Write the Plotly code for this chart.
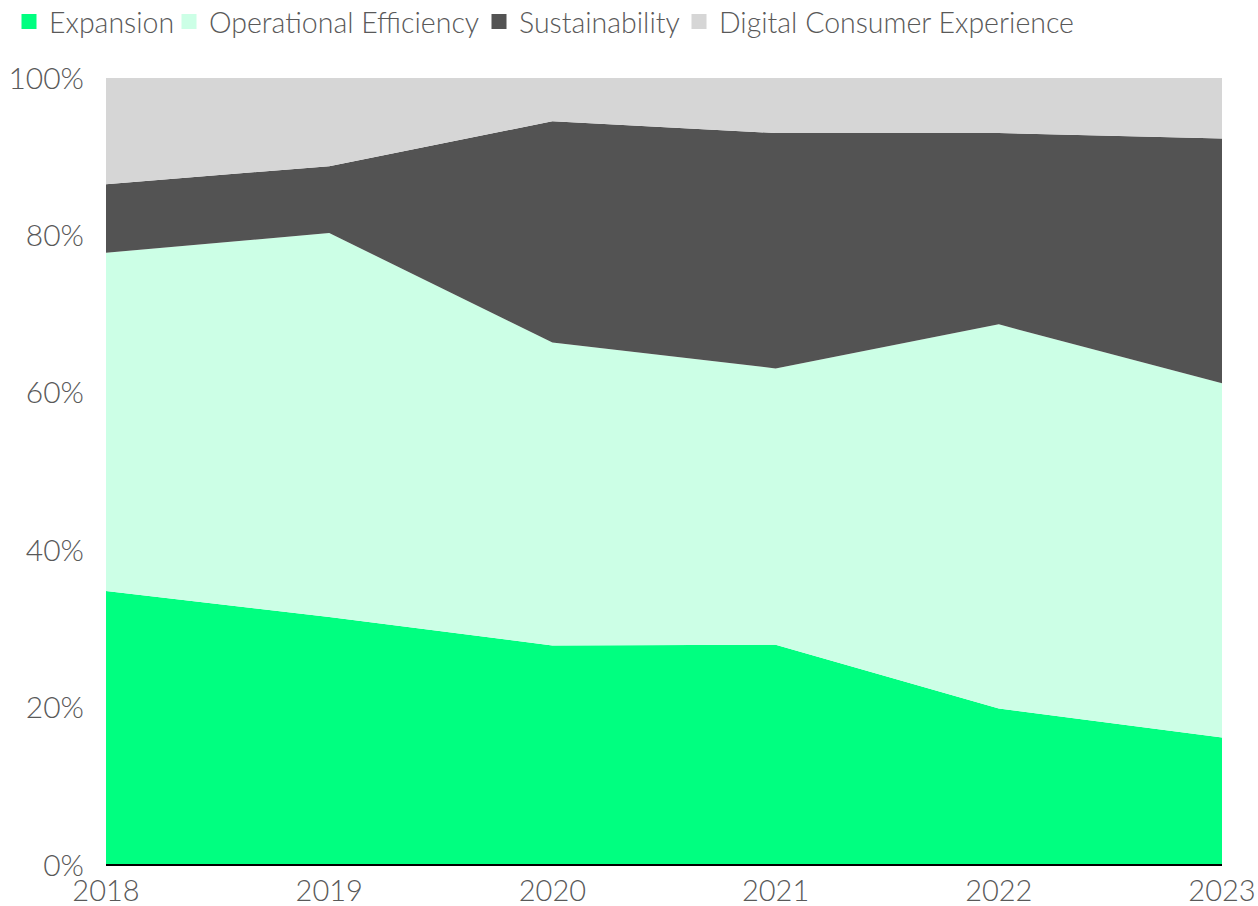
import plotly.graph_objects as go

years = [2018, 2019, 2020, 2021, 2022, 2023]
expansion = [34.8, 31.5, 27.9, 28.0, 19.9, 16.2]
operational = [43.0, 48.8, 38.5, 35.1, 48.8, 45.0]
sustainability = [8.7, 8.5, 28.1, 29.9, 24.3, 31.1]
digital = [13.5, 11.2, 5.5, 7.0, 7.0, 7.7]
tick_labels = ["0%", "20%", "40%", "60%", "80%", "100%"]

series = [
    ("Expansion", expansion, "#00FF80"),
    ("Operational Efficiency", operational, "#CCFFE6"),
    ("Sustainability", sustainability, "#535353"),
    ("Digital Consumer Experience", digital, "#D6D6D6"),
]

W, H = 1258, 906
FONT = "Lato"
legend_ids = ["legend", "legend2", "legend3", "legend4"]
legend_x_px = [9, 169, 479, 679]

fig = go.Figure()
for name, vals, color in series:
    fig.add_trace(go.Scatter(
        x=years, y=vals, name=name, mode="none", stackgroup="one",
        groupnorm="percent", fillcolor=color, line=dict(width=0),
        showlegend=False,
    ))
for (name, vals, color), lid in zip(series, legend_ids):
    fig.add_trace(go.Scatter(
        x=[None], y=[None], name=name, mode="markers",
        marker=dict(symbol="square", size=15, color=color),
        showlegend=True, legend=lid,
    ))

leg_common = dict(orientation="h", xref="container", xanchor="left",
                  y=1 - 22 / H, yref="container", yanchor="middle",
                  font=dict(size=28.5, family=FONT, color="#595959", weight=300),
                  itemwidth=30, bgcolor="rgba(0,0,0,0)", borderwidth=0)
legends = {lid: dict(leg_common, x=px / W) for lid, px in zip(legend_ids, legend_x_px)}

fig.update_layout(
    width=W, height=H,
    paper_bgcolor="white", plot_bgcolor="white",
    margin=dict(l=106, r=36, t=78, b=41),
    font=dict(family=FONT, color="#595959", size=30, weight=300),
    showlegend=True,
    xaxis=dict(range=[2018, 2023], tickvals=years, ticktext=[str(y) for y in years],
               showgrid=False, zeroline=False, showline=False, ticks="",
               tickfont=dict(size=29), ticklabelstandoff=6, automargin=False),
    yaxis=dict(range=[0, 100], tickvals=[0, 20, 40, 60, 80, 100],
               ticktext=tick_labels,
               showgrid=False, zeroline=False, showline=False, ticks="",
               tickfont=dict(size=30), ticklabelstandoff=21, automargin=False),
    **legends,
)
fig.add_shape(type="line", xref="paper", yref="paper", x0=0, x1=1, y0=0, y1=0,
              line=dict(color="black", width=2))
fig.write_html("out.html", config={"displayModeBar": False},
               post_script="document.body.style.margin='0';document.body.style.overflow='hidden';")
